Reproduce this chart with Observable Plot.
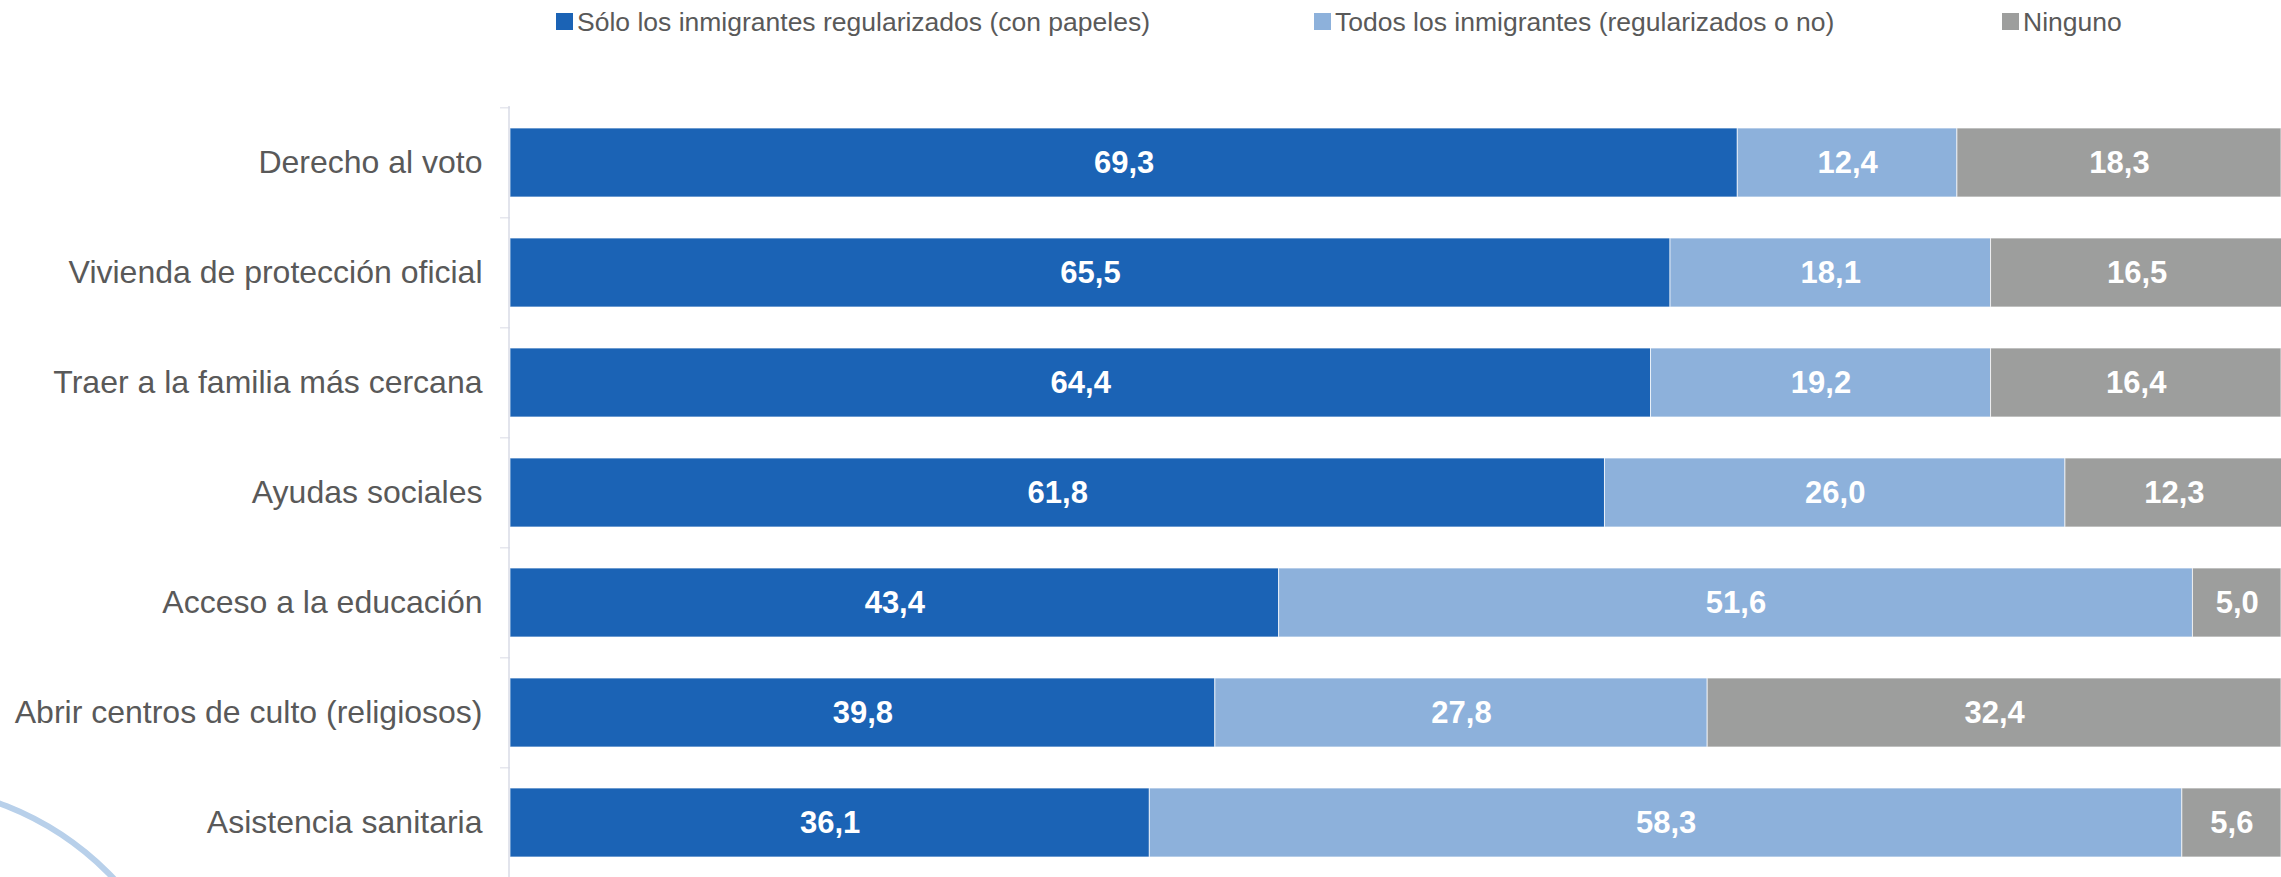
<!DOCTYPE html>
<html>
<head>
<meta charset="utf-8">
<script src="https://cdn.jsdelivr.net/npm/d3@7"></script>
<script src="https://cdn.jsdelivr.net/npm/@observablehq/plot@0.6"></script>
<style>
  html, body { margin: 0; padding: 0; background: #fff; }
  body { width: 2281px; height: 877px; position: relative; overflow: hidden;
         font-family: "Liberation Sans", Arial, sans-serif; }
  #legend { position: relative; height: 44px; }
  .item { position: absolute; top: 0; height: 44px; display: flex; align-items: center;
          font-size: 26.5px; color: #595959; white-space: nowrap; }
  .item .sw { width: 17px; height: 17px; margin-right: 4px; margin-top: -1px; }
  #deco { position: absolute; left: 0; top: 0; pointer-events: none; }
  #chart svg { display: block; overflow: hidden; }
</style>
</head>
<body>
<div id="legend"></div>
<div id="chart"></div>
<svg id="deco" width="2281" height="877"></svg>
<script>
// ---- data ----
const categories = [
  "Derecho al voto",
  "Vivienda de protección oficial",
  "Traer a la familia más cercana",
  "Ayudas sociales",
  "Acceso a la educación",
  "Abrir centros de culto (religiosos)",
  "Asistencia sanitaria"
];
const seriesNames = [
  "Sólo los inmigrantes regularizados (con papeles)",
  "Todos los inmigrantes (regularizados o no)",
  "Ninguno"
];
const soloRegularizados = [69.3, 65.5, 64.4, 61.8, 43.4, 39.8, 36.1];
const todos = [12.4, 18.1, 19.2, 26.0, 51.6, 27.8, 58.3];
const ninguno = [18.3, 16.5, 16.4, 12.3, 5.0, 32.4, 5.6];
const seriesColors = ["#1b63b5", "#8db1db", "#9d9e9d"];

const seriesValues = [soloRegularizados, todos, ninguno];
const data = [];
categories.forEach((c, i) => {
  seriesNames.forEach((s, j) => {
    data.push({category: c, series: s, value: seriesValues[j][i]});
  });
});

// ---- legend ----
const legendLefts = [556, 1314, 2002];
const legend = document.getElementById("legend");
seriesNames.forEach((s, j) => {
  const it = document.createElement("div");
  it.className = "item";
  it.style.left = legendLefts[j] + "px";
  const sw = document.createElement("span");
  sw.className = "sw";
  sw.style.background = seriesColors[j];
  it.appendChild(sw);
  it.appendChild(document.createTextNode(s));
  legend.appendChild(it);
});

// ---- chart ----
const W = 2281, H = 833;
const top0 = 62.5, bottom0 = top0 + 7 * 110.3;
const step = (bottom0 - top0) / categories.length;
const fmt = v => v.toFixed(1).replace(".", ",");

const chart = Plot.plot({
  width: W,
  height: H,
  marginLeft: 510,
  marginRight: 0,
  marginTop: 62,
  marginBottom: 0,
  style: {fontFamily: "'Liberation Sans', Arial, sans-serif", background: "white"},
  x: {domain: [0, 100], axis: null},
  y: {domain: categories, range: [top0, bottom0], paddingInner: 0.377, paddingOuter: 0.1885, label: null},
  color: {domain: seriesNames, range: seriesColors},
  marks: [
    Plot.barX(data, Plot.stackX({
      x: "value", y: "category", fill: "series", z: "series",
      stroke: "white", strokeWidth: 1, strokeOpacity: 0.7
    })),
    Plot.text(data, Plot.stackX({
      x: "value", y: "category", z: "series",
      text: d => fmt(d.value),
      fill: "white", fontWeight: "bold", fontSize: 31
    })),
    Plot.axisY({
      tickSize: 0, tickPadding: 28, fontSize: 32, color: "#595959", label: null
    }),
    Plot.axisY({
      tickSize: 10, tickFormat: () => "", dy: -step / 2, stroke: "#d9dbe6", label: null
    }),
    Plot.ruleX([0], {stroke: "#d9dbe6", strokeWidth: 1.5, dx: -1.5})
  ]
});
document.getElementById("chart").appendChild(chart);

// ---- decorative arc (slide background) ----
const deco = d3.select("#deco");
deco.append("circle")
  .attr("cx", -104).attr("cy", 1085).attr("r", 300)
  .attr("fill", "none").attr("stroke", "#b8d0ea").attr("stroke-width", 6);
</script>
</body>
</html>
